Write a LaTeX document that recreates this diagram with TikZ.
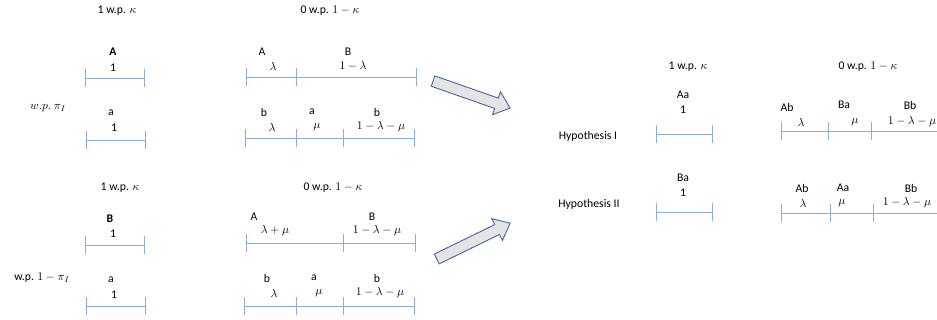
\documentclass[tikz,border=0pt]{standalone}
\usepackage{fontspec}
\setmainfont{Carlito}
\usepackage{tikz}
\usetikzlibrary{shapes.arrows}
\definecolor{barblue}{HTML}{8FAADC}
\definecolor{arrowedge}{HTML}{4A68A6}
\definecolor{arrowfill}{HTML}{E4E4E4}
\tikzset{
  lbl/.style={inner sep=0pt,font=\normalsize},
  seg/.style={draw=barblue,line width=0.6pt},
  bigarrow/.style={single arrow,draw=arrowedge,fill=arrowfill,line width=0.8pt,
    minimum height=2.45cm,inner xsep=0pt,inner ysep=0.15cm,
    single arrow head extend=0.2cm,single arrow tip angle=80}
}
% y, left end, right end, tick positions
\newcommand{\tickbar}[4]{%
  \draw[seg] (#2,#1) -- (#3,#1);
  \foreach \tx in {#4} {\draw[seg] (\tx,#1-9) -- (\tx,#1+9);}
}

\begin{document}
\begin{tikzpicture}[x=0.03cm,y=-0.03cm]
\useasboundingbox (0,0) rectangle (937,320);
% hypothesis I source
\node[lbl] (ka) at (117,11) {1 w.p. $\kappa$};
\node[lbl] (kb) at (330,11) {0 w.p. $1-\kappa$};
\node[lbl,font=\bfseries] (Ua) at (113,52) {A};
\node[lbl] (Uav) at (113,68) {1};
\tickbar{78}{85}{144}{85,144}
\node[lbl] (pia) at (48,108) {$w.p.\ \pi_I$};
\node[lbl] (La) at (111,113) {a};
\node[lbl] (Lav) at (114,128) {1};
\tickbar{140}{86}{145}{86,145}
\node[lbl] (UA) at (262,52) {A};
\node[lbl] (UAv) at (273,66) {$\lambda$};
\node[lbl] (UB) at (348,52) {B};
\node[lbl] (UBv) at (353,66) {$1-\lambda$};
\tickbar{77}{246}{416}{246,296,416}
\node[lbl] (Lb1) at (264,112) {b};
\node[lbl] (Lb1v) at (272,127) {$\lambda$};
\node[lbl] (La2) at (312,112) {a};
\node[lbl] (La2v) at (317,127) {$\mu$};
\node[lbl] (Lb3) at (377,112) {b};
\node[lbl] (Lb3v) at (381,127) {$1-\lambda-\mu$};
\tickbar{138}{245}{414}{245,296,343,414}
% hypothesis II source
\node[lbl] (kc) at (120,188) {1 w.p. $\kappa$};
\node[lbl] (kd) at (333,188) {0 w.p. $1-\kappa$};
\node[lbl,font=\bfseries] (Ub) at (110,219) {B};
\node[lbl] (Ubv) at (113,234) {1};
\tickbar{245}{85}{144}{85,144}
\node[lbl] (pib) at (42,278) {w.p. $1-\pi_I$};
\node[lbl] (Lc) at (111,280) {a};
\node[lbl] (Lcv) at (114,295) {1};
\tickbar{306}{86}{145}{86,145}
\node[lbl] (VA) at (254,217) {A};
\node[lbl] (VAv) at (275,231) {$\lambda+\mu$};
\node[lbl] (VB) at (372,217) {B};
\node[lbl] (VBv) at (377,231) {$1-\lambda-\mu$};
\tickbar{243}{246}{415}{246,343,415}
\node[lbl] (Mb1) at (267,278) {b};
\node[lbl] (Mb1v) at (274,293) {$\lambda$};
\node[lbl] (Ma2) at (314,278) {a};
\node[lbl] (Ma2v) at (319,293) {$\mu$};
\node[lbl] (Mb3) at (377,278) {b};
\node[lbl] (Mb3v) at (380,293) {$1-\lambda-\mu$};
\tickbar{306}{244}{414}{244,296,343,414}
% arrows
\node[bigarrow,rotate=-19.3] (arrI) at (468.5,93.5) {};
\node[bigarrow,rotate=26] (arrII) at (470.5,242.5) {};
% combined
\node[lbl] (ke) at (688,67) {1 w.p. $\kappa$};
\node[lbl] (kf) at (868,67) {0 w.p. $1-\kappa$};
\node[lbl] (hypI) at (588,136) {Hypothesis I};
\node[lbl] (Aa) at (683,95) {Aa};
\node[lbl] (Aav) at (683,110) {1};
\tickbar{134}{656}{712}{656,712}
\node[lbl] (Ab) at (787,107) {Ab};
\node[lbl] (Abv) at (801,122) {$\lambda$};
\node[lbl] (Ba) at (844,105) {Ba};
\node[lbl] (Bav) at (855,122) {$\mu$};
\node[lbl] (Bb) at (910,105) {Bb};
\node[lbl] (Bbv) at (912,122) {$1-\lambda-\mu$};
\tickbar{131}{781}{945}{781,828,871}
\node[lbl] (hypII) at (589,204) {Hypothesis II};
\node[lbl] (Ba2) at (683,178) {Ba};
\node[lbl] (Ba2v) at (683,193) {1};
\tickbar{212}{656}{712}{656,712}
\node[lbl] (Ab2) at (802,188) {Ab};
\node[lbl] (Ab2v) at (803,203) {$\lambda$};
\node[lbl] (Aa2) at (843,188) {Aa};
\node[lbl] (Aa2v) at (842,203) {$\mu$};
\node[lbl] (Bb2) at (911,188) {Bb};
\node[lbl] (Bb2v) at (907,203) {$1-\lambda-\mu$};
\tickbar{213}{781}{945}{781,830,873}
\end{tikzpicture}
\end{document}
